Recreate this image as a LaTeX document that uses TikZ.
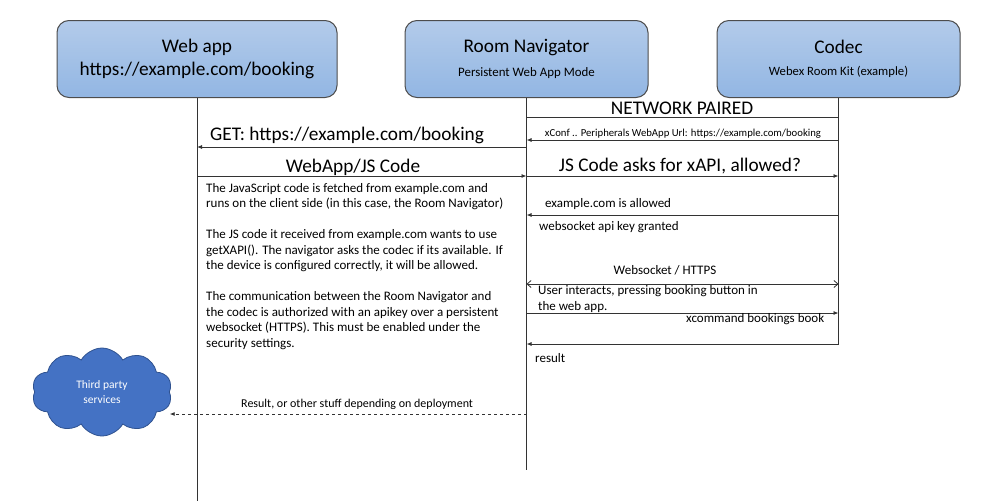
\documentclass[tikz,border=0pt]{standalone}
\usepackage{fontspec}
\setmainfont{Carlito}
\usetikzlibrary{arrows.meta,shapes.symbols}

\definecolor{boxtop}{HTML}{B3CBEA}
\definecolor{boxbot}{HTML}{92B6E3}
\definecolor{boxline}{HTML}{4D4D4D}
\definecolor{cloudfill}{HTML}{4472C4}
\definecolor{cloudline}{HTML}{2F528F}

\tikzset{
  actorbox/.style={draw=boxline, line width=1pt, rounded corners=12pt,
    top color=boxtop, bottom color=boxbot, minimum height=77pt,
    align=center, inner sep=0pt, font=\fontsize{19.3}{23}\selectfont},
  lifeline/.style={draw=black!80, line width=0.8pt},
  msg/.style={draw=black!80, line width=0.8pt, -{Latex[length=5pt,width=4pt]}},
  bigtext/.style={inner sep=0pt, font=\fontsize{19.3}{22}\selectfont},
  smalltext/.style={inner sep=0pt, font=\fontsize{13}{15.5}\selectfont},
}

\begin{document}
\begin{tikzpicture}[x=1pt,y=-1pt]
    \useasboundingbox (0,0) rectangle (999,501);

    % actors
    \node[actorbox, minimum width=280pt] (web) at (197,59)
        {Web app\\https://example.com/booking};
    \node[actorbox, minimum width=243pt] (nav) at (526.5,59)
        {Room Navigator\\[1pt]{\fontsize{12.9}{14}\selectfont Persistent Web App Mode}};
    \node[actorbox, minimum width=243pt] (codec) at (838.5,59)
        {Codec\\[-1pt]{\fontsize{12.7}{15}\selectfont Webex Room Kit (example)}};

    % lifelines
    \coordinate (webend) at (197,501);
    \coordinate (navend) at (526.5,470);
    \coordinate (codecend) at (838.5,345);
    \draw[lifeline] (web.south) -- (webend);
    \draw[lifeline] (nav.south) -- (navend);
    \draw[lifeline] (codec.south) -- (codecend);

    % network paired
    \draw[lifeline] (nav.south |- 0,117) -- (codec.south |- 0,117);
    \node[bigtext, anchor=base] (paired) at (682,114) {NETWORK PAIRED};

    % messages
    \draw[msg] (codec.south |- 0,140) -- (nav.south |- 0,140);
    \node[anchor=base, inner sep=0pt, font=\fontsize{10.7}{13}\selectfont] (xconf) at (683,136)
        {xConf .. Peripherals WebApp Url: https://example.com/booking};

    \draw[msg] (nav.south |- 0,147) -- (web.south |- 0,147);
    \node[bigtext, anchor=base west] (get) at (210,140) {GET: https://example.com/booking};

    \draw[msg] (web.south |- 0,176) -- (nav.south |- 0,176);
    \node[bigtext, anchor=base] (jscode) at (353,172) {WebApp/JS Code};

    \draw[msg] (nav.south |- 0,176) -- (codec.south |- 0,176);
    \node[bigtext, anchor=base] (asks) at (680,171) {JS Code asks for xAPI, allowed?};

    \node[smalltext, anchor=base west, align=left] (note) at (206,347)
        {The JavaScript code is fetched from example.com and\\
         runs on the client side (in this case, the Room Navigator)\\[15.5pt]
         The JS code it received from example.com wants to use\\
         getXAPI(). The navigator asks the codec if its available. If\\
         the device is configured correctly, it will be allowed.\\[15.5pt]
         The communication between the Room Navigator and\\
         the codec is authorized with an apikey over a persistent\\
         websocket (HTTPS). This must be enabled under the\\
         security settings.};

    \draw[msg] (codec.south |- 0,215) -- (nav.south |- 0,215);
    \node[smalltext, anchor=base west] (allowed) at (545,207) {example.com is allowed};
    \node[smalltext, anchor=base west] (granted) at (539,230) {websocket api key granted};

    \draw[lifeline, {Straight Barb[length=4pt,width=7pt]}-{Straight Barb[length=4pt,width=7pt]}]
        (nav.south |- 0,284) -- (codec.south |- 0,284);
    \node[smalltext, anchor=base] (socket) at (665,274) {Websocket / HTTPS};
    \node[smalltext, anchor=base west, align=left] (interacts) at (538,310)
        {User interacts, pressing booking button in\\the web app.};

    \draw[msg] (nav.south |- 0,313) -- (codec.south |- 0,313);
    \node[smalltext, anchor=base west] (book) at (686,322) {xcommand bookings book};

    \draw[msg] (codec.south |- 0,344) -- (nav.south |- 0,344);
    \node[smalltext, anchor=base west] (result) at (535,362) {result};

    % third party
    \node[cloud, cloud puffs=10, cloud puff arc=120, aspect=1.6, draw=cloudline, fill=cloudfill,
        line width=0.8pt, minimum width=140pt, minimum height=88pt, text=white, align=center,
        font=\fontsize{11.5}{15}\selectfont] (cloud) at (102,392) {Third party\\services};
    \draw[msg, dashed] (nav.south |- 0,414) -- (cloud.east |- 0,414);
    \node[smalltext, anchor=base west, font=\fontsize{12}{15}\selectfont] (other) at (241,407)
        {Result, or other stuff depending on deployment};
\end{tikzpicture}
\end{document}
